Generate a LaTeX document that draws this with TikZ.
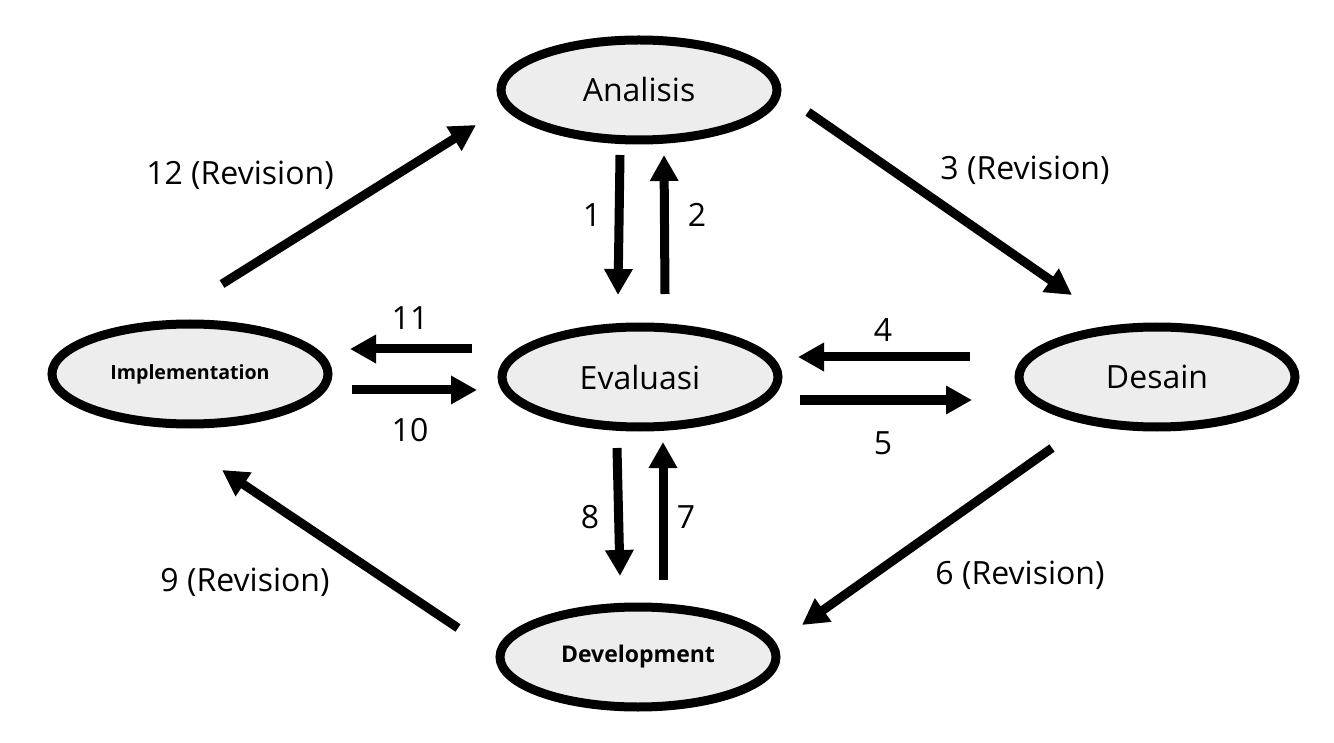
\documentclass[tikz,border=0pt]{standalone}
\usepackage{fontspec}
\setmainfont{Open Sans}
\usetikzlibrary{shapes.geometric,arrows.meta}
\begin{document}
\begin{tikzpicture}[x=0.5pt,y=-0.5pt,
  phase/.style={ellipse, draw=black, line width=4.5pt, fill=black!7, minimum width=138pt, minimum height=50pt, inner sep=0pt, font=\fontsize{16}{19}\selectfont},
  phasesmall/.style={phase, font=\bfseries\fontsize{9.8}{12}\selectfont},
  flow/.style={line width=4.5pt, -{Triangle[length=13pt,width=13.5pt]}},
  lbl/.style={font=\fontsize{16}{19}\selectfont, inner sep=0pt}]
\useasboundingbox (0,0) rectangle (1334,743);
% phases
\node [phase] (ana) at (639,90) {Analisis};
\node [phase] (eva) at (640,377) {Evaluasi};
\node [phase] (des) at (1157,377) {Desain};
\node [phasesmall] (imp) at (190,374) {Implementation};
\node [phasesmall, font=\bfseries\fontsize{11.5}{13}\selectfont] (dev) at (638,657) {Development};
% arrow end points
\coordinate (a1s) at (620,155); \coordinate (a1e) at (618,295);
\coordinate (a2s) at (665,294); \coordinate (a2e) at (664,155);
\coordinate (a3s) at (808,112); \coordinate (a3e) at (1072,295);
\coordinate (a4s) at (970,357); \coordinate (a4e) at (798,357);
\coordinate (a5s) at (800,400); \coordinate (a5e) at (972,400);
\coordinate (a6s) at (1052,448); \coordinate (a6e) at (802,625);
\coordinate (a7s) at (663,580); \coordinate (a7e) at (663,442);
\coordinate (a8s) at (617,448); \coordinate (a8e) at (620,576);
\coordinate (a9s) at (458,628); \coordinate (a9e) at (222,470);
\coordinate (a10s) at (352,390); \coordinate (a10e) at (477,390);
\coordinate (a11s) at (472,349); \coordinate (a11e) at (350,349);
\coordinate (a12s) at (222,284); \coordinate (a12e) at (476,125);
% arrows
\draw [flow] (a1s) -- (a1e);
\draw [flow] (a2s) -- (a2e);
\draw [flow] (a3s) -- (a3e);
\draw [flow] (a4s) -- (a4e);
\draw [flow] (a5s) -- (a5e);
\draw [flow] (a6s) -- (a6e);
\draw [flow] (a7s) -- (a7e);
\draw [flow] (a8s) -- (a8e);
\draw [flow] (a9s) -- (a9e);
\draw [flow] (a10s) -- (a10e);
\draw [flow] (a11s) -- (a11e);
\draw [flow] (a12s) -- (a12e);
% labels
\node [lbl] (l1) at (592,215) {1};
\node [lbl] (l2) at (697,215) {2};
\node [lbl] (l3) at (1025,170) {3 (Revision)};
\node [lbl] (l4) at (883,330) {4};
\node [lbl] (l5) at (883,443) {5};
\node [lbl] (l6) at (1020,575) {6 (Revision)};
\node [lbl] (l7) at (686,517) {7};
\node [lbl] (l8) at (590,517) {8};
\node [lbl] (l9) at (245,582) {9 (Revision)};
\node [lbl] (l10) at (410,430) {10};
\node [lbl] (l11) at (410,318) {11};
\node [lbl] (l12) at (240,175) {12 (Revision)};
\end{tikzpicture}
\end{document}
